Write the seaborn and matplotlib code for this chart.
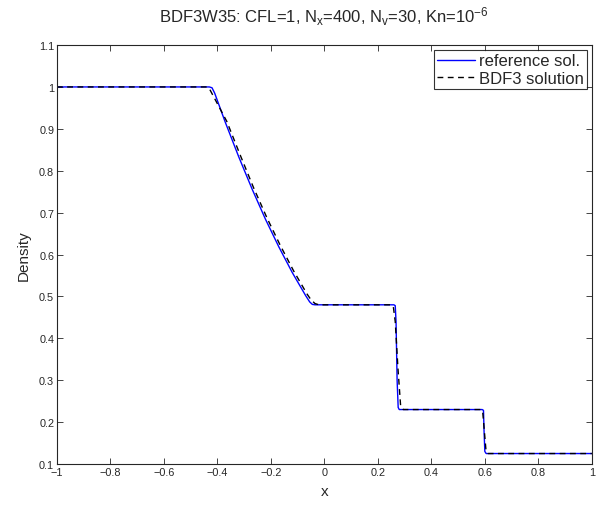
import matplotlib
matplotlib.use('Agg')
import matplotlib.pyplot as plt
import seaborn as sns
import pandas as pd

# reference solution
ref_x = [-1, -0.43, -0.42, -0.41, -0.37, -0.32, -0.27, -0.22, -0.17, -0.12, -0.07, -0.055, -0.045, -0.035,
         0.26, 0.265, 0.268, 0.272, 0.276, 0.28, 0.59, 0.595, 0.597, 0.60, 0.605, 1]
ref_y = [1, 1, 0.998, 0.985, 0.915, 0.833, 0.756, 0.684, 0.618, 0.557, 0.502, 0.487, 0.481, 0.48,
         0.48, 0.478, 0.44, 0.30, 0.235, 0.23, 0.23, 0.228, 0.18, 0.13, 0.125, 0.125]

# BDF3 solution
bdf_x = [-1, -0.44, -0.43, -0.415, -0.365, -0.315, -0.265, -0.215, -0.165, -0.115, -0.065, -0.05, -0.035, -0.02,
         0.25, 0.258, 0.265, 0.275, 0.285, 0.295, 0.585, 0.592, 0.598, 0.604, 0.612, 1]
bdf_y = [1, 1, 0.996, 0.978, 0.918, 0.838, 0.76, 0.688, 0.622, 0.561, 0.506, 0.492, 0.483, 0.48,
         0.48, 0.475, 0.44, 0.33, 0.24, 0.23, 0.23, 0.225, 0.18, 0.135, 0.125, 0.125]

x_ticks = [-1, -0.8, -0.6, -0.4, -0.2, 0, 0.2, 0.4, 0.6, 0.8, 1]
x_labels = ['\u22121', '\u22120.8', '\u22120.6', '\u22120.4', '\u22120.2', '0', '0.2', '0.4', '0.6', '0.8', '1']
y_ticks = [0.1, 0.2, 0.3, 0.4, 0.5, 0.6, 0.7, 0.8, 0.9, 1, 1.1]
y_labels = ['0.1', '0.2', '0.3', '0.4', '0.5', '0.6', '0.7', '0.8', '0.9', '1', '1.1']

sns.set_style('ticks')
plt.rcParams['font.family'] = ['Liberation Sans', 'DejaVu Sans']
plt.rcParams['mathtext.fontset'] = 'custom'
plt.rcParams['mathtext.rm'] = 'Liberation Sans'
plt.rcParams['mathtext.it'] = 'Liberation Sans'

ref = pd.DataFrame({'x': ref_x, 'rho': ref_y})
bdf = pd.DataFrame({'x': bdf_x, 'rho': bdf_y})

fig = plt.figure(figsize=(5.99, 5.06), dpi=100)
ax = fig.add_axes([0.095, 0.081, 0.893, 0.828])

sns.lineplot(data=ref, x='x', y='rho', sort=False, estimator=None, color='#0000ff', lw=1.0,
             label='reference sol.', ax=ax)
sns.lineplot(data=bdf, x='x', y='rho', sort=False, estimator=None, color='black', lw=1.0,
             linestyle=(0, (4.2, 3.2)), label='BDF3 solution', ax=ax)

ax.set_xlim(-1, 1)
ax.set_ylim(0.1, 1.1)
ax.set_xticks(x_ticks)
ax.set_xticklabels(x_labels)
ax.set_yticks(y_ticks)
ax.set_yticklabels(y_labels)
ax.tick_params(direction='in', top=True, right=True, labelsize=7.8, length=4, width=0.6, pad=2)
for s in ax.spines.values():
    s.set_visible(True)
    s.set_linewidth(0.8)

ax.set_xlabel('x', fontsize=11, labelpad=5)
ax.set_ylabel('Density', fontsize=11, labelpad=6)
ax.set_title('BDF3W35: CFL=1, N$_x$=400, N$_v$=30, Kn=10$^{-6}$', fontsize=12, pad=17)

leg = ax.legend(loc='upper right', fontsize=12, frameon=True, fancybox=False,
                borderaxespad=0.3, handlelength=2.3, handletextpad=0.2, labelspacing=0.15,
                borderpad=0.2)
leg.get_frame().set_edgecolor('black')
leg.get_frame().set_linewidth(0.8)

fig.savefig('out.png', dpi=100)
